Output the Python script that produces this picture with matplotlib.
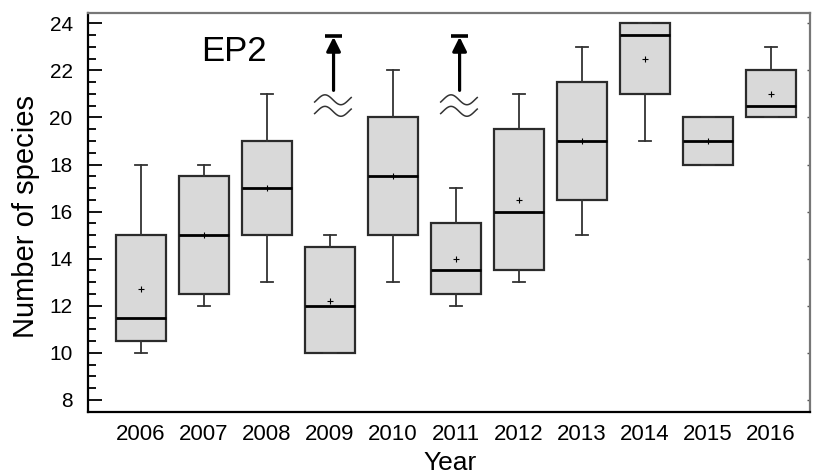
import numpy as np
import matplotlib
matplotlib.use('Agg')
import matplotlib.pyplot as plt

plt.rcParams['font.family'] = ['Liberation Sans', 'DejaVu Sans']

years = ['2006', '2007', '2008', '2009', '2010', '2011', '2012', '2013', '2014', '2015', '2016']
whislo = [10, 12, 13, 10, 13, 12, 13, 15, 19, 18, 20]
q1 = [10.5, 12.5, 15, 10, 15, 12.5, 13.5, 16.5, 21, 18, 20]
med = [11.5, 15, 17, 12, 17.5, 13.5, 16, 19, 23.5, 19, 20.5]
q3 = [15, 17.5, 19, 14.5, 20, 15.5, 19.5, 21.5, 24, 20, 22]
whishi = [18, 18, 21, 15, 22, 17, 21, 23, 24, 20, 23]
means = [12.7, 15, 17, 12.2, 17.5, 14, 16.5, 19, 22.5, 19, 21]
offscale_years = ['2009', '2011']

stats = []
for i in range(len(years)):
    stats.append(dict(label=years[i], whislo=whislo[i], q1=q1[i], med=med[i],
                      q3=q3[i], whishi=whishi[i], mean=means[i], fliers=[]))

fig = plt.figure(figsize=(8.19, 4.75), dpi=100)
ax = fig.add_axes([0.1074, 0.1333, 0.8816, 0.84])

pos = np.arange(1, len(years) + 1)
ax.bxp(stats, positions=pos, widths=0.8, capwidths=0.19, patch_artist=True,
       showmeans=True, showfliers=False,
       boxprops=dict(facecolor='#d9d9d9', edgecolor='#2b2b2b', linewidth=1.6),
       medianprops=dict(color='black', linewidth=2),
       whiskerprops=dict(color='#333333', linewidth=1.3),
       capprops=dict(color='#333333', linewidth=1.3),
       meanprops=dict(marker='+', markeredgecolor='black', markersize=4, markeredgewidth=0.8))

# arrows and break marks for values off the scale
for yr in offscale_years:
    x = pos[years.index(yr)] + 0.06
    ax.annotate('', xy=(x, 23.42), xytext=(x, 21.15),
                arrowprops=dict(arrowstyle='-|>', lw=2.3, color='black', mutation_scale=21,
                                shrinkA=0, shrinkB=0))
    ax.plot([x - 0.13, x + 0.13], [23.47, 23.47], color='black', lw=2.6, solid_capstyle='butt')
    t = np.linspace(-0.15 * np.pi, 2.15 * np.pi, 60)
    xs = x - 0.01 + np.linspace(-0.29, 0.29, 60)
    for yc in [20.75, 20.26]:
        ax.plot(xs, yc + 0.21 * np.sin(t), color='#333333', lw=1.1)

ax.text(1.96, 22.4, 'EP2', fontsize=25, ha='left', va='baseline')

ax.set_xlim(0.163, 11.62)
ax.set_ylim(7.5, 24.45)
ax.set_xticks(pos)
ax.set_xticklabels(years)
ax.set_yticks(np.arange(8, 25, 2))
ax.set_yticks(np.arange(8, 24.5, 0.5), minor=True)
ax.tick_params(axis='x', length=0, pad=9, labelsize=16)
ax.tick_params(axis='y', which='major', direction='in', length=10, width=1.3, pad=11,
               labelsize=15)
ax.tick_params(axis='y', which='minor', direction='in', length=5.5, width=1.3)

# small inner ticks on the right frame
rax = ax.secondary_yaxis('right')
rax.set_yticks(np.arange(8, 25, 2))
rax.tick_params(direction='in', length=2.5, width=1, labelright=False, color='#555555')
rax.spines['right'].set_visible(False)

for s in ['left', 'bottom']:
    ax.spines[s].set_linewidth(1.6)
    ax.spines[s].set_color('black')
for s in ['top', 'right']:
    ax.spines[s].set_linewidth(1.6)
    ax.spines[s].set_color('#777777')

fig.text(450 / 819, 0.0105, 'Year', fontsize=19, ha='center', va='baseline')
fig.text(0.032, 0.544, 'Number of species', fontsize=21, rotation=90, ha='center', va='center')

plt.savefig('out.png', dpi=100)
plt.close()
